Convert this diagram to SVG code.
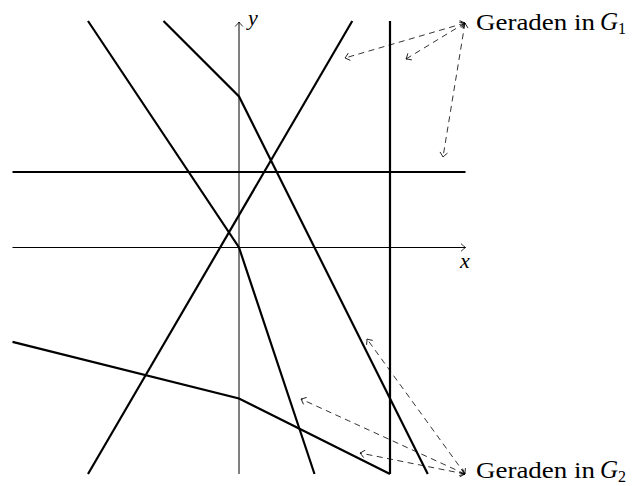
<svg xmlns="http://www.w3.org/2000/svg" width="644" height="486" viewBox="0 0 644 486">
<style>
.axis{stroke:#000;stroke-width:1;fill:none}
.g{stroke:#000;stroke-width:2.2;fill:none;stroke-linejoin:miter}
.d{stroke:#000;stroke-width:0.8;fill:none;stroke-dasharray:6 4.5}
.t{font-family:'Liberation Serif','Times New Roman','DejaVu Serif',serif;fill:#000}
.it{font-style:italic}
</style>
<defs>
<marker id="tip" viewBox="-6 -5 8 10" markerWidth="8" markerHeight="10" refX="0" refY="0" orient="auto-start-reverse" markerUnits="userSpaceOnUse">
<path d="M-4.5,-3.8 Q-1.2,-0.8 0,0 Q-1.2,0.8 -4.5,3.8" fill="none" stroke="#000" stroke-width="0.8"/>
</marker>
</defs>
<g id="axes">
<line class="axis" x1="12.5" y1="247.5" x2="465.5" y2="247.5" marker-end="url(#tip)"/>
<line class="axis" x1="239" y1="474" x2="239" y2="22" marker-end="url(#tip)"/>
<text class="t it" x="460" y="268" font-size="22" font-family="Liberation Serif, serif">x</text>
<text class="t it" x="248" y="25" font-size="22" font-family="Liberation Serif, serif">y</text>
</g>
<g id="lines">
<line class="g" x1="12.5" y1="172" x2="465.5" y2="172"/>
<line class="g" x1="390" y1="21" x2="390" y2="474"/>
<polyline class="g" points="88,21 239,247.5 314.5,474"/>
<line class="g" x1="352.25" y1="21" x2="88" y2="474"/>
<polyline class="g" points="163.5,21 239,96.5 427.75,474"/>
<polyline class="g" points="12.5,341.9 239,398.5 390,474"/>
</g>
<g id="label-G1">
<text class="t" x="476" y="30" font-size="24" font-family="Liberation Serif, serif" textLength="119" lengthAdjust="spacingAndGlyphs">Geraden in</text>
<text class="t it" x="600" y="30" font-size="25" font-family="Liberation Serif, serif">G</text>
<text class="t" x="618" y="34" font-size="16" font-family="Liberation Serif, serif">1</text>
</g>
<g id="label-G2">
<text class="t" x="476" y="478" font-size="24" font-family="Liberation Serif, serif" textLength="119" lengthAdjust="spacingAndGlyphs">Geraden in</text>
<text class="t it" x="600" y="478" font-size="25" font-family="Liberation Serif, serif">G</text>
<text class="t" x="618" y="482" font-size="16" font-family="Liberation Serif, serif">2</text>
</g>
<g id="connectors">
<line class="d" x1="465" y1="23" x2="345" y2="58" marker-start="url(#tip)" marker-end="url(#tip)"/>
<line class="d" x1="465" y1="23" x2="406" y2="59" marker-start="url(#tip)" marker-end="url(#tip)"/>
<line class="d" x1="465" y1="23" x2="443" y2="157" marker-start="url(#tip)" marker-end="url(#tip)"/>
<line class="d" x1="465" y1="474" x2="367" y2="339" marker-start="url(#tip)" marker-end="url(#tip)"/>
<line class="d" x1="465" y1="474" x2="301" y2="399" marker-start="url(#tip)" marker-end="url(#tip)"/>
<line class="d" x1="465" y1="474" x2="360" y2="453" marker-start="url(#tip)" marker-end="url(#tip)"/>
</g>
</svg>
